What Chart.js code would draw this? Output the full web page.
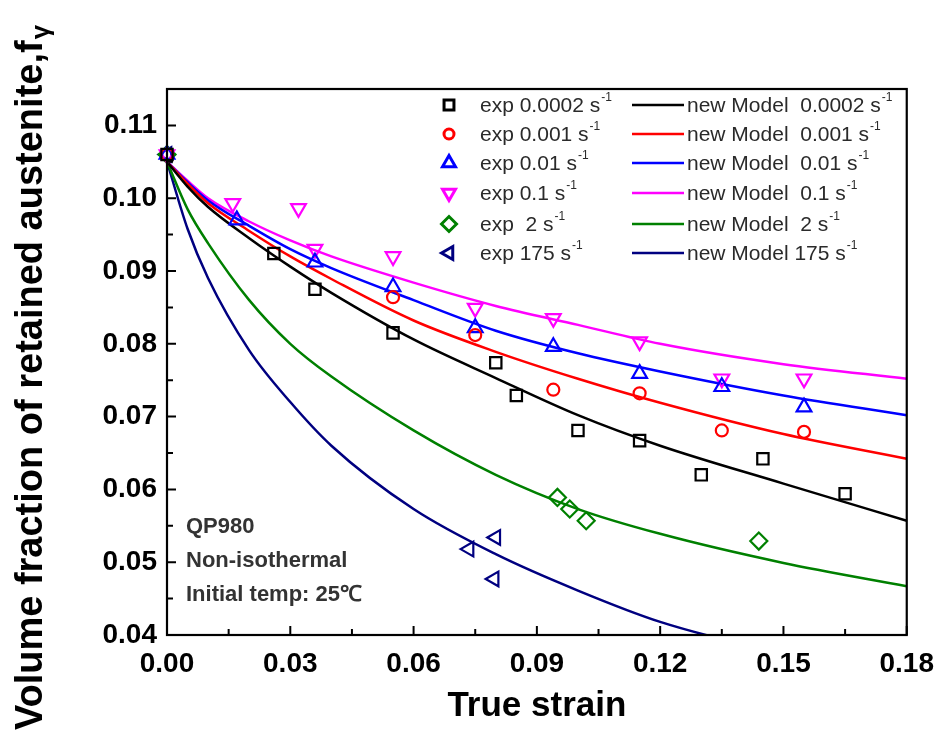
<!DOCTYPE html>
<html>
<head>
<meta charset="utf-8">
<script src="https://cdn.jsdelivr.net/npm/chart.js@4/dist/chart.umd.min.js"></script>
<style>
  html, body { margin: 0; padding: 0; background: #fff; }
  #wrap { width: 946px; height: 743px; }
</style>
</head>
<body>
<div id="wrap"><canvas id="strainChart" width="946" height="743"></canvas></div>
<script>
// tick labels
const xTicks = [0, 0.03, 0.06, 0.09, 0.12, 0.15, 0.18];
const yTicks = [0.04, 0.05, 0.06, 0.07, 0.08, 0.09, 0.10, 0.11];

// experimental points (strain / fraction)
const exp00002X = [0, 0.026, 0.036, 0.055, 0.080, 0.085, 0.100, 0.115, 0.130, 0.145, 0.165];
const exp00002Y = [0.106, 0.0924, 0.0875, 0.0815, 0.0774, 0.0729, 0.0681, 0.0667, 0.0620, 0.0642, 0.0594];
const exp0001X = [0, 0.055, 0.075, 0.094, 0.115, 0.135, 0.155];
const exp0001Y = [0.106, 0.0864, 0.0812, 0.0737, 0.0732, 0.0681, 0.0679];
const exp001X = [0, 0.017, 0.036, 0.055, 0.075, 0.094, 0.115, 0.135, 0.155];
const exp001Y = [0.106, 0.0970, 0.0912, 0.0878, 0.0822, 0.0796, 0.0759, 0.0741, 0.0713];
const exp01X = [0, 0.016, 0.032, 0.036, 0.055, 0.075, 0.094, 0.115, 0.135, 0.155];
const exp01Y = [0.106, 0.0993, 0.0986, 0.0930, 0.0920, 0.0849, 0.0835, 0.0803, 0.0752, 0.0752];
const exp2X = [0, 0.095, 0.098, 0.102, 0.144];
const exp2Y = [0.106, 0.0589, 0.0573, 0.0557, 0.0529];
const exp175X = [0, 0.0735, 0.080, 0.0796];
const exp175Y = [0.106, 0.0518, 0.0534, 0.0477];

// model curves, sampled on one strain grid
const modelStrain = [0, 0.005, 0.01, 0.02, 0.03, 0.04, 0.06, 0.08, 0.10, 0.12, 0.15, 0.18];
const model00002 = [0.105, 0.1016, 0.0988, 0.0945, 0.0906, 0.0870, 0.0806, 0.0753, 0.0702, 0.0660, 0.0608, 0.0557];
const model0001 = [0.105, 0.1020, 0.0993, 0.0955, 0.0920, 0.0889, 0.0832, 0.0789, 0.0752, 0.0719, 0.0676, 0.0642];
const model001 = [0.105, 0.1022, 0.0997, 0.0962, 0.0930, 0.0904, 0.0860, 0.0818, 0.0787, 0.0762, 0.0729, 0.0702];
const model01 = [0.105, 0.1024, 0.1000, 0.0968, 0.0942, 0.0920, 0.0884, 0.0852, 0.0826, 0.0800, 0.0772, 0.0752];
const model2 = [0.105, 0.0985, 0.0938, 0.0860, 0.0800, 0.0755, 0.0681, 0.0620, 0.0573, 0.0539, 0.0499, 0.0467];
const model175 = [0.105, 0.0958, 0.0890, 0.0791, 0.0720, 0.0660, 0.0573, 0.0511, 0.0461, 0.0418, 0.0374, 0.0340];

const rates = ['0.0002', '0.001', '0.01', '0.1', '2', '175'];
const expLabels = ['exp 0.0002 s', 'exp 0.001 s', 'exp 0.01 s', 'exp 0.1 s', 'exp  2 s', 'exp 175 s'];
const modelLabels = ['new Model  0.0002 s', 'new Model  0.001 s', 'new Model  0.01 s', 'new Model  0.1 s', 'new Model  2 s', 'new Model 175 s'];
const colors = ['#000000', '#ff0000', '#0000ff', '#ff00ff', '#008000', '#000080'];

const expX = [exp00002X, exp0001X, exp001X, exp01X, exp2X, exp175X];
const expY = [exp00002Y, exp0001Y, exp001Y, exp01Y, exp2Y, exp175Y];
const models = [model00002, model0001, model001, model01, model2, model175];

const markers = [
  { pointStyle: 'rect', rotation: 0, radius: 8 },
  { pointStyle: 'circle', rotation: 0, radius: 6 },
  { pointStyle: 'triangle', rotation: 0, radius: 8.5 },
  { pointStyle: 'triangle', rotation: 180, radius: 8.5 },
  { pointStyle: 'rectRot', rotation: 0, radius: 8.5 },
  { pointStyle: 'triangle', rotation: 270, radius: 8.5 }
];

function pairs(xs, ys) {
  return xs.map(function (x, i) { return { x: x, y: ys[i] }; });
}

const datasets = [];
for (let i = 0; i < rates.length; i++) {
  datasets.push({
    label: modelLabels[i],
    data: pairs(modelStrain, models[i]),
    showLine: true,
    borderColor: colors[i],
    borderWidth: 2.5,
    pointRadius: 0,
    cubicInterpolationMode: 'monotone',
    order: 2
  });
}
for (let i = 0; i < rates.length; i++) {
  datasets.push({
    label: expLabels[i],
    data: pairs(expX[i], expY[i]),
    showLine: false,
    borderColor: colors[i],
    backgroundColor: 'rgba(0,0,0,0)',
    pointStyle: markers[i].pointStyle,
    rotation: markers[i].rotation,
    pointRadius: markers[i].radius,
    pointBorderWidth: 2.2,
    pointBackgroundColor: 'rgba(0,0,0,0)',
    clip: false,
    order: 1
  });
}

const chartArea = { left: 167, right: 907, top: 89, bottom: 635 };

function textWithSup(ctx, x, y, main, sup, font, supFont) {
  ctx.font = font;
  ctx.fillText(main, x, y);
  const w = ctx.measureText(main).width;
  ctx.font = supFont;
  ctx.fillText(sup, x + w + 1, y - 8);
}

const decorPlugin = {
  id: 'decor',
  afterDraw: function (chart) {
    const ctx = chart.ctx;
    const xs = chart.scales.x, ys = chart.scales.y;
    const a = chart.chartArea;
    ctx.save();

    // frame
    ctx.strokeStyle = '#000';
    ctx.lineWidth = 2.2;
    ctx.strokeRect(a.left, a.top, a.right - a.left, a.bottom - a.top);

    // inward ticks on left and bottom axes
    ctx.lineWidth = 2;
    ctx.beginPath();
    for (let i = 0; i < yTicks.length; i++) {
      const py = ys.getPixelForValue(yTicks[i]);
      ctx.moveTo(a.left, py); ctx.lineTo(a.left + 9, py);
      if (i < yTicks.length - 1) {
        const pm = ys.getPixelForValue((yTicks[i] + yTicks[i + 1]) / 2);
        ctx.moveTo(a.left, pm); ctx.lineTo(a.left + 6, pm);
      }
    }
    for (let i = 0; i < xTicks.length; i++) {
      const px = xs.getPixelForValue(xTicks[i]);
      ctx.moveTo(px, a.bottom); ctx.lineTo(px, a.bottom - 9);
      if (i < xTicks.length - 1) {
        const pm = xs.getPixelForValue((xTicks[i] + xTicks[i + 1]) / 2);
        ctx.moveTo(pm, a.bottom); ctx.lineTo(pm, a.bottom - 6);
      }
    }
    ctx.stroke();

    // axis titles
    ctx.fillStyle = '#000';
    ctx.font = 'bold 35px "Liberation Sans", Arial, sans-serif';
    ctx.textAlign = 'center';
    ctx.textBaseline = 'alphabetic';
    ctx.fillText('True strain', (a.left + a.right) / 2, 716);

    ctx.save();
    ctx.translate(42, 378);
    ctx.rotate(-Math.PI / 2);
    const yMain = 'Volume fraction of retained austenite,f';
    ctx.font = 'bold 38px "Liberation Sans", Arial, sans-serif';
    const wMain = ctx.measureText(yMain).width;
    ctx.font = 'bold 26px "Liberation Sans", Arial, sans-serif';
    const wSub = ctx.measureText('γ').width;
    const startX = -(wMain + wSub) / 2;
    ctx.textAlign = 'left';
    ctx.font = 'bold 38px "Liberation Sans", Arial, sans-serif';
    ctx.fillText(yMain, startX, 0);
    ctx.font = 'bold 26px "Liberation Sans", Arial, sans-serif';
    ctx.fillText('γ', startX + wMain + 1, 7);
    ctx.restore();

    // sample notes
    ctx.fillStyle = '#333';
    ctx.textAlign = 'left';
    ctx.textBaseline = 'middle';
    ctx.font = 'bold 22px "Liberation Sans", Arial, sans-serif';
    ctx.fillText('QP980', 186, 527);
    ctx.fillText('Non-isothermal', 186, 561);
    ctx.fillText('Initial temp: 25\u2103', 186, 595);

    // two-column legend
    const rowY = [105, 134, 163, 193, 224, 253];
    const font = '21px "Liberation Sans", Arial, sans-serif';
    const supFont = '12px "Liberation Sans", Arial, sans-serif';
    for (let i = 0; i < rates.length; i++) {
      const y = rowY[i];
      ctx.strokeStyle = colors[i];
      ctx.fillStyle = 'rgba(0,0,0,0)';
      ctx.lineWidth = 3;
      Chart.helpers.drawPoint(ctx, {
        pointStyle: markers[i].pointStyle,
        rotation: markers[i].rotation,
        radius: markers[i].radius - 1,
        borderWidth: 3
      }, 449, y);

      ctx.beginPath();
      ctx.lineWidth = 2.5;
      ctx.moveTo(632, y); ctx.lineTo(684, y);
      ctx.stroke();

      ctx.fillStyle = '#2a2a2a';
      ctx.textBaseline = 'middle';
      textWithSup(ctx, 480, y + 1, expLabels[i], '-1', font, supFont);
      textWithSup(ctx, 687, y + 1, modelLabels[i], '-1', font, supFont);
    }
    ctx.restore();
  }
};

new Chart(document.getElementById('strainChart'), {
  type: 'scatter',
  data: { datasets: datasets },
  options: {
    responsive: false,
    animation: false,
    layout: { padding: { top: chartArea.top, right: 946 - chartArea.right, left: 0, bottom: 0 } },
    plugins: { legend: { display: false }, tooltip: { enabled: false } },
    scales: {
      x: {
        type: 'linear',
        min: 0,
        max: 0.18,
        afterFit: function (scale) { scale.height = 743 - chartArea.bottom; },
        afterBuildTicks: function (scale) { scale.ticks = xTicks.map(function (v) { return { value: v }; }); },
        grid: { display: false, drawTicks: false },
        border: { display: false },
        ticks: {
          padding: 12,
          color: '#000',
          font: { family: '"Liberation Sans", Arial, sans-serif', size: 28, weight: 'bold' },
          maxRotation: 0,
          callback: function (v) { return v.toFixed(2); }
        }
      },
      y: {
        type: 'linear',
        min: 0.04,
        max: 0.115,
        afterFit: function (scale) { scale.width = chartArea.left; },
        afterBuildTicks: function (scale) { scale.ticks = yTicks.map(function (v) { return { value: v }; }); },
        grid: { display: false, drawTicks: false },
        border: { display: false },
        ticks: {
          padding: 10,
          color: '#000',
          font: { family: '"Liberation Sans", Arial, sans-serif', size: 28, weight: 'bold' },
          callback: function (v) { return v.toFixed(2); }
        }
      }
    }
  },
  plugins: [decorPlugin]
});
</script>
</body>
</html>
